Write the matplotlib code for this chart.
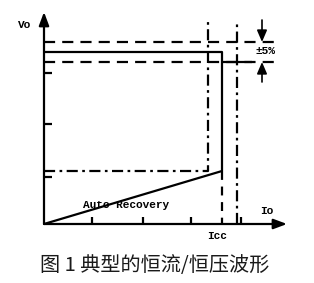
import matplotlib
matplotlib.use("Agg")
import matplotlib.pyplot as plt

# chart units: x = Io, y = Vo (origin at axes corner)
v_hi, v_nom, v_lo = 182, 172, 162
icc = 178
i_cut = 208          # end of lower constant-voltage segment
dd_x1, dd_x2 = 164, 193
dd_y = 53
dd_top = 204
dash_end = 236
recovery_x = [0, icc]
recovery_y = [0, dd_y]
y_ticks = [151, 100, 47]
x_ticks = [48, 99, 147, 197]
x_max, y_max = 243, 212
arrow_x = 218

W, H = 314, 283
fig = plt.figure(figsize=(W / 100, H / 100), dpi=100)
ax = fig.add_axes([44 / W, (H - 224) / H, x_max / W, y_max / H])
ax.set_xlim(0, x_max)
ax.set_ylim(0, y_max)
ax.axis("off")

lw = 1.6
k = dict(color="black", lw=lw, clip_on=False, solid_capstyle="butt")
dash = (0, (5, 3.2))
dashdot = (0, (5, 2, 1.2, 2))

# axes with arrows
ax.annotate("", xy=(0, y_max), xytext=(0, 0),
            arrowprops=dict(arrowstyle="-|>,head_length=0.8,head_width=0.3", color="black", lw=lw, shrinkA=0, shrinkB=0))
ax.annotate("", xy=(x_max, 0), xytext=(0, 0),
            arrowprops=dict(arrowstyle="-|>,head_length=0.8,head_width=0.3", color="black", lw=lw, shrinkA=0, shrinkB=0))

# ticks
for t in y_ticks:
    ax.plot([0, 8], [t, t], **k)
for t in x_ticks:
    ax.plot([t, t], [0, 7], **k)

# dashed +/-5% limits
ax.plot([0, dash_end], [v_hi, v_hi], linestyle=dash, **k)
ax.plot([0, dash_end], [v_lo, v_lo], linestyle=dash, **k)

# solid CC/CV curve
ax.plot([0, icc, icc], [v_nom, v_nom, dd_y], **k)
ax.plot([icc, i_cut], [v_lo, v_lo], **k)
ax.plot(recovery_x, recovery_y, **k)
ax.plot([icc, icc], [dd_y, 0], linestyle=(0, (4, 3)), **k)

# dash-dot boundaries
ax.plot([0, dd_x1, dd_x1], [dd_y, dd_y, dd_top], linestyle=dashdot, **k)
ax.plot([dd_x2, dd_x2], [0, dd_top], linestyle=dashdot, **k)

# +/-5% arrows
ax.annotate("", xy=(arrow_x, v_hi), xytext=(arrow_x, dd_top),
            arrowprops=dict(arrowstyle="-|>,head_length=0.7,head_width=0.3", color="black", lw=1.2, shrinkA=0, shrinkB=0))
ax.annotate("", xy=(arrow_x, v_lo), xytext=(arrow_x, v_lo - 20),
            arrowprops=dict(arrowstyle="-|>,head_length=0.7,head_width=0.3", color="black", lw=1.2, shrinkA=0, shrinkB=0))

mono = dict(family="Liberation Mono", weight="bold", fontsize=8, color="black")
ax.text(-19, 199, "Vo", ha="center", va="center", **mono)
ax.text(223, 13, "Io", ha="center", va="center", **mono)
ax.text(icc - 5, -12, "Icc", ha="center", va="center", **mono)
ax.text(82, 19, "Auto Recovery", ha="center", va="center", **mono)
ax.text(221, 173, "±5%", ha="center", va="center", **mono)

fig.text(155 / W, 1 - 266 / H, "图 1 典型的恒流/恒压波形", ha="center", va="center",
         family=["Noto Sans CJK SC", "DejaVu Sans"], fontsize=14.5, color="#1a1a1a")

fig.savefig("out.png", dpi=100)
